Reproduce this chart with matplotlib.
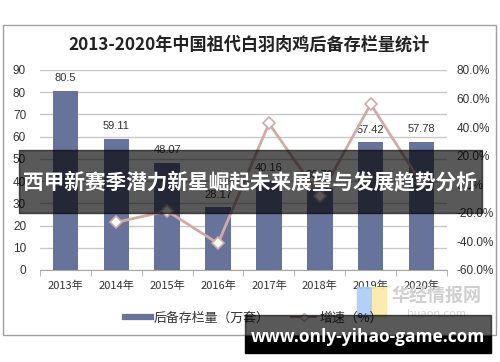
import matplotlib
matplotlib.use("Agg")
import matplotlib.pyplot as plt
from matplotlib.patches import Rectangle
from matplotlib.lines import Line2D
import numpy as np

plt.rcParams['font.family'] = ['Noto Sans CJK SC', 'DejaVu Sans']

years = ["2013年", "2014年", "2015年", "2016年", "2017年", "2018年", "2019年", "2020年"]
stock = [80.5, 59.11, 48.07, 28.17, 40.16, 36.79, 57.42, 57.78]
growth = [None, -26.6, -18.7, -41.4, 42.6, -8.4, 56.1, 0.6]
left_ticks = [0, 10, 20, 30, 40, 50, 60, 70, 80, 90]
right_ticks = [-60, -40, -20, 0, 20, 40, 60, 80]

W, H = 500, 362
fig = plt.figure(figsize=(5, 3.62), dpi=100)

def fx(x): return x / W
def fy(y): return 1 - y / H

# chart border
fig.patches.append(Rectangle((fx(3), fy(335)), fx(493), 310 / H, transform=fig.transFigure,
                             fill=False, edgecolor='#a0a0a0', lw=1.0, zorder=0))

ax = fig.add_axes([fx(40), fy(270), fx(407), 200 / H])
x = np.arange(len(years))
bar_color = '#68739b'
ax.bar(x, stock, width=0.5, color=bar_color, zorder=2)
for xi, v in zip(x, stock):
    ax.text(xi, v + 3.5, f"{v:g}", ha='center', va='bottom',
            fontsize=8, color='#333333', family=['Liberation Sans', 'DejaVu Sans'])
ax.set_ylim(0, 90)
ax.set_xlim(-0.5, len(years) - 0.5)
ax.set_yticks(left_ticks)
ax.yaxis.grid(True, color='#c8c8c8', lw=1.0, zorder=0)
ax.set_axisbelow(True)
for s in ['top', 'right', 'left']:
    ax.spines[s].set_visible(False)
ax.spines['bottom'].set_color('#a8a8a8')
ax.set_xticks(x)
ax.set_xticklabels(years, fontsize=8, color='#333333')
ax.set_xticks(np.arange(-0.5, len(years), 1.0), minor=True)
ax.tick_params(axis='x', which='major', length=0, pad=8)
ax.tick_params(axis='x', which='minor', length=4, color='#a8a8a8')
ax.tick_params(axis='y', length=0, labelsize=8.5, labelcolor='#333333', pad=10)
for lab in ax.get_yticklabels():
    lab.set_family(['Liberation Sans', 'DejaVu Sans'])

ax2 = ax.twinx()
line_color = '#d2aaa6'
gx = [xi for xi, g in zip(x, growth) if g is not None]
gy = [g for g in growth if g is not None]
ax2.plot(gx, gy, color=line_color, lw=2, marker='D', markersize=6,
         markerfacecolor='white', markeredgecolor=line_color, markeredgewidth=1.2, zorder=3)
ax2.set_ylim(-60, 80)
ax2.set_yticks(right_ticks)
ax2.set_yticklabels([f"{t:.1f}%" for t in right_ticks], family=['Liberation Sans', 'DejaVu Sans'])
ax2.tick_params(axis='y', length=0, labelsize=8.5, labelcolor='#333333', pad=7)
for s in ['top', 'right', 'left', 'bottom']:
    ax2.spines[s].set_visible(False)

# title
fig.text(fx(249), fy(45), "2013-2020年中国祖代白羽肉鸡后备存栏量统计", ha='center', va='center',
         fontsize=12.3, fontweight='bold', color='#222222')

# legend
handles = [Line2D([0], [0], color=bar_color, lw=4.5),
           Line2D([0], [0], color='#a08080', lw=1.2, marker='D', markersize=4,
                  markerfacecolor='white', markeredgecolor='#d2aaa6')]
fig.legend(handles, ["后备存栏量（万套）", "增速（%）"], loc='center', ncol=2,
           bbox_to_anchor=(fx(254), fy(318)), frameon=False, fontsize=9.3,
           handlelength=2.0, handletextpad=0.25, columnspacing=1.6,
           labelcolor='#333333')

# logo watermark
fig.patches.append(Rectangle((fx(357), fy(317)), 14 / W, 30 / H, transform=fig.transFigure,
                             color='#a9ccf5', alpha=0.9, zorder=5))
fig.patches.append(Rectangle((fx(372), fy(317)), 14 / W, 30 / H, transform=fig.transFigure,
                             color='#fbe9a6', alpha=0.9, zorder=5))
fig.text(fx(436), fy(296), "华经情报网", ha='center', va='center', fontsize=13,
         fontweight='bold', color='#cfcfcf', zorder=6)
fig.text(fx(436), fy(314), "huaon.com", ha='center', va='center', fontsize=8,
         color='#d5d5d5', zorder=6)

# banner overlay
fig.patches.append(Rectangle((fx(19), fy(213)), 463 / W, 63 / H, transform=fig.transFigure,
                             color='black', alpha=0.65, zorder=10))
fig.text(fx(250), fy(182), "西甲新赛季潜力新星崛起未来展望与发展趋势分析", ha='center', va='center',
         fontsize=14.9, fontweight='bold', color='white', zorder=11)

# url watermark
fig.patches.append(Rectangle((fx(245), fy(336)), 246 / W, 21 / H, transform=fig.transFigure,
                             color='black', alpha=0.65, zorder=10))
fig.patches.append(Rectangle((fx(245), fy(353)), 246 / W, 17 / H, transform=fig.transFigure,
                             color='black', zorder=10))
fig.text(fx(368), fy(337), "www.only-yihao-game.com", ha='center', va='center',
         fontsize=12.5, fontweight='bold', color='white', zorder=11,
         family=['Open Sans', 'DejaVu Sans'])

fig.savefig("out.png", dpi=100)
